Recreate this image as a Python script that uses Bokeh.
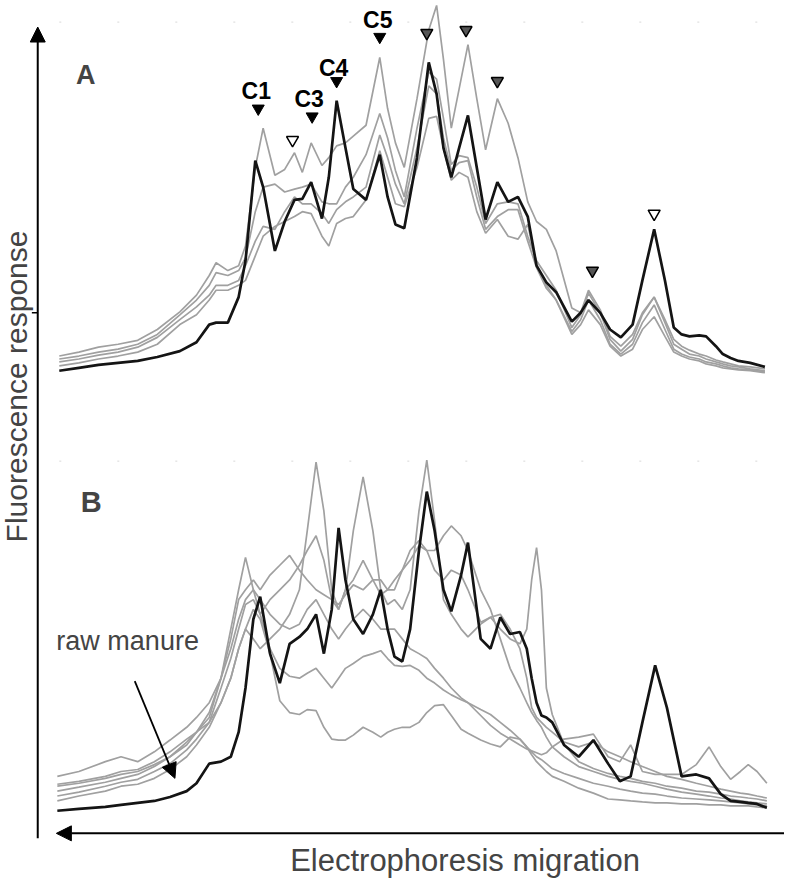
import math
from bokeh.plotting import figure
from bokeh.models import Range1d, Arrow, NormalHead, Label
from bokeh.core.properties import value
from bokeh.embed import file_html
from bokeh.resources import INLINE

# ---------------- Panel A (migration position, fluorescence response) ----------------
a_migration = [60, 80, 100, 120, 140, 160, 183, 200, 213, 220,
               232, 243, 250, 260, 268, 280, 290, 300, 308, 317,
               328, 335, 343, 352, 360, 373, 387, 395, 403, 412,
               425, 437, 445, 452, 460, 468, 477, 486, 495, 507,
               518, 528, 538, 547, 557, 567, 583, 592, 600, 612,
               622, 633, 645, 655, 667, 678, 687, 695, 703, 713,
               720, 730, 737, 745, 753, 765, 780]

a_black = [3, 6, 9, 11, 13, 17, 23, 32, 50, 52,
           52, 78, 115, 217, 190, 125, 155, 177, 178, 195,
           158, 200, 278, 230, 188, 177, 223, 180, 152, 148,
           220, 317, 285, 230, 200, 230, 263, 210, 157, 195,
           175, 180, 160, 110, 93, 83, 53, 62, 75, 62,
           45, 37, 50, 95, 147, 95, 47, 40, 38, 39,
           38, 28, 20, 16, 13, 11, 7]

a_gray1 = [18, 22, 27, 30, 34, 45, 63, 80, 100, 113,
           105, 110, 130, 210, 250, 202, 208, 225, 205, 235,
           212, 220, 232, 235, 242, 253, 322, 270, 235, 210,
           280, 350, 375, 320, 250, 290, 335, 280, 228, 280,
           255, 220, 175, 155, 147, 125, 67, 62, 85, 65,
           38, 28, 40, 62, 78, 55, 35, 28, 24, 20,
           18, 14, 12, 10, 8, 7, 5]

a_gray2 = [15, 18, 22, 25, 30, 40, 60, 75, 90, 103,
           100, 105, 118, 165, 190, 193, 185, 188, 190, 193,
           175, 173, 173, 190, 200, 223, 265, 240, 207, 180,
           250, 307, 300, 260, 213, 222, 220, 190, 153, 173,
           175, 173, 140, 115, 100, 85, 47, 60, 82, 62,
           35, 23, 35, 60, 78, 52, 30, 25, 20, 18,
           15, 12, 10, 8, 7, 5, 3]

a_gray3 = [12, 15, 19, 22, 27, 37, 55, 68, 80, 90,
           90, 95, 110, 135, 150, 147, 165, 180, 173, 173,
           163, 153, 167, 175, 180, 190, 243, 220, 193, 173,
           230, 293, 285, 240, 207, 215, 217, 180, 147, 160,
           167, 167, 135, 108, 87, 75, 43, 55, 75, 55,
           30, 20, 30, 52, 70, 45, 25, 20, 17, 15,
           12, 10, 8, 6, 5, 4, 2]

a_gray4 = [8, 11, 15, 18, 22, 30, 50, 60, 75, 85,
           85, 90, 95, 120, 140, 150, 155, 160, 165, 163,
           140, 130, 153, 158, 160, 177, 227, 200, 173, 170,
           210, 260, 262, 230, 197, 205, 200, 165, 143, 157,
           140, 137, 152, 110, 90, 75, 40, 50, 65, 50,
           28, 18, 25, 45, 58, 38, 22, 18, 15, 13,
           10, 8, 6, 5, 4, 3, 1]

# peak markers of panel A
a_mark_black_x = [263, 318, 343, 387]
a_mark_black_y = [270, 262, 298, 343]
a_mark_open_x = [298, 667]
a_mark_open_y = [238, 163]
a_mark_gray_x = [435, 475, 507, 604]
a_mark_gray_y = [347, 350, 298, 105]
a_peak_names = ["C1", "C3", "C4", "C5"]
a_peak_label_x = [261, 315, 340, 385]
a_peak_label_y = [288, 280, 311, 360]

# ---------------- Panel B ----------------
b_migration = [58, 80, 107, 123, 140, 157, 173, 190, 200, 213,
               225, 235, 243, 250, 258, 265, 275, 285, 295, 305,
               313, 322, 330, 338, 345, 352, 360, 370, 380, 388,
               395, 402, 410, 418, 427, 435, 443, 452, 460, 470,
               477, 490, 500, 510, 520, 530, 537, 542, 547, 552,
               557, 563, 575, 590, 605, 620, 632, 643, 655, 668,
               680, 695, 710, 723, 735, 745, 755, 763, 772, 782]

b_black = [0, 2, 4, 6, 8, 10, 14, 20, 28, 48,
           50, 55, 80, 125, 195, 218, 160, 130, 170, 177,
           185, 200, 160, 205, 288, 235, 195, 180, 200, 225,
           185, 157, 152, 185, 265, 325, 285, 225, 203, 240,
           273, 175, 165, 197, 180, 182, 165, 135, 110, 97,
           95, 90, 67, 55, 72, 48, 30, 35, 90, 148,
           105, 35, 37, 33, 17, 10, 9, 8, 7, 3]

b_gray1 = [27, 30, 35, 40, 42, 50, 60, 73, 80, 90,
           110, 135, 165, 185, 175, 165, 175, 185, 200, 225,
           285, 355, 305, 225, 205, 225, 285, 340, 285, 225,
           210, 215, 205, 225, 305, 357, 295, 215, 200, 185,
           177, 190, 197, 185, 175, 170, 185, 235, 268, 225,
           125, 98, 68, 50, 43, 38, 35, 33, 30, 28,
           25, 23, 20, 19, 17, 15, 14, 13, 12, 10]

b_gray2 = [20, 24, 29, 33, 37, 45, 55, 70, 80, 95,
           135, 185, 225, 258, 225, 200, 215, 225, 235, 250,
           265, 280, 255, 215, 205, 225, 235, 255, 235, 220,
           225, 235, 245, 255, 270, 265, 245, 235, 245, 240,
           225, 192, 197, 200, 185, 165, 135, 105, 95, 90,
           85, 80, 70, 65, 70, 60, 55, 50, 45, 40,
           35, 32, 28, 25, 22, 20, 18, 17, 15, 13]

b_gray3 = [25, 28, 33, 37, 40, 47, 55, 67, 80, 100,
           135, 175, 215, 225, 235, 225, 240, 250, 260, 245,
           235, 225, 220, 215, 210, 220, 230, 225, 235, 235,
           225, 225, 245, 265, 275, 265, 265, 280, 290, 280,
           265, 225, 205, 175, 145, 125, 110, 100, 92, 85,
           75, 65, 55, 45, 40, 35, 32, 30, 28, 25,
           22, 19, 17, 15, 13, 12, 10, 9, 8, 7]

b_gray4 = [15, 19, 25, 29, 32, 40, 48, 62, 73, 90,
           125, 155, 185, 210, 215, 200, 165, 145, 137, 135,
           140, 145, 135, 125, 135, 145, 150, 157, 160, 163,
           155, 148, 147, 148, 143, 135, 130, 123, 118, 113,
           110, 103, 98, 90, 82, 73, 65, 60, 55, 52,
           48, 43, 38, 33, 28, 25, 22, 20, 18, 17,
           15, 13, 12, 11, 10, 9, 8, 7, 6, 5]

b_gray5 = [10, 15, 20, 25, 27, 33, 42, 55, 67, 85,
           110, 135, 165, 185, 205, 195, 160, 112, 100, 98,
           103, 102, 85, 73, 72, 72, 77, 85, 80, 75,
           80, 83, 85, 85, 90, 100, 107, 108, 97, 83,
           79, 72, 68, 65, 75, 73, 65, 57, 50, 45,
           40, 35, 30, 23, 18, 12, 11, 10, 9, 8,
           8, 7, 7, 6, 6, 5, 5, 5, 4, 3]

b_gray6 = [35, 40, 50, 55, 50, 60, 72, 85, 95, 110,
           135, 165, 195, 215, 225, 215, 200, 190, 185, 190,
           205, 215, 200, 185, 175, 185, 195, 205, 195, 185,
           185, 185, 175, 165, 160, 155, 145, 135, 125, 115,
           110, 97, 87, 79, 73, 67, 63, 61, 59, 57,
           59, 65, 73, 75, 78, 55, 50, 67, 40, 37,
           37, 37, 47, 65, 45, 32, 40, 47, 40, 28]

GRAY = "#a0a0a0"
BLACK = "#141414"
FONT = "Liberation Sans"

p = figure(width=784, height=880, output_backend="svg", toolbar_location=None,
           x_range=Range1d(0, 800), y_range=Range1d(896, 0),
           x_axis_type=None, y_axis_type=None, min_border=0)
p.outline_line_color = None
p.grid.visible = False
p.extra_y_ranges = {"A": Range1d(-516, 380), "B": Range1d(-71, 825)}

# faint frame tops
for yy in (22, 469):
    p.line([60, 780], [yy, yy], line_color="#d8d8d8", line_width=1, line_dash="2 56")

for g in (a_gray1, a_gray2, a_gray3, a_gray4):
    p.line(a_migration, g, y_range_name="A", line_color=GRAY, line_width=1.7)
p.line(a_migration, a_black, y_range_name="A", line_color=BLACK, line_width=2.7)

for g in (b_gray1, b_gray2, b_gray3, b_gray4, b_gray5, b_gray6):
    p.line(b_migration, g, y_range_name="B", line_color=GRAY, line_width=1.7)
p.line(b_migration, b_black, y_range_name="B", line_color=BLACK, line_width=2.7)

p.scatter(a_mark_black_x, a_mark_black_y, y_range_name="A", marker="inverted_triangle",
          size=12, fill_color="black", line_color="black")
p.scatter(a_mark_open_x, a_mark_open_y, y_range_name="A", marker="inverted_triangle",
          size=12, fill_color="white", line_color="black", line_width=1.5)
p.scatter(a_mark_gray_x, a_mark_gray_y, y_range_name="A", marker="inverted_triangle",
          size=12, fill_color="#555555", line_color="black", line_width=1.5)
p.text(a_peak_label_x, a_peak_label_y, text=a_peak_names, y_range_name="A",
       text_font=value(FONT), text_font_style="bold", text_font_size="23px",
       text_align="center", text_baseline="alphabetic", text_color="black")

# panel letters
p.add_layout(Label(x=77, y=76, text="A", text_font=FONT, text_font_style="bold",
                   text_font_size="27px", text_align="left", text_baseline="alphabetic"))
p.add_layout(Label(x=82, y=511, text="B", text_font=FONT, text_font_style="bold",
                   text_font_size="29px", text_align="left", text_baseline="alphabetic"))

# axes arrows
p.add_layout(Arrow(end=NormalHead(size=15, fill_color="black", line_color="black"),
                   x_start=38, y_start=853, x_end=38, y_end=27, line_width=2, line_color="black"))
p.add_layout(Arrow(end=NormalHead(size=15, fill_color="black", line_color="black"),
                   x_start=800, y_start=848, x_end=57, y_end=848, line_width=2, line_color="black"))
p.line([32, 38], [318, 318], line_color="black", line_width=1.5)

# raw manure annotation
p.add_layout(Arrow(end=NormalHead(size=15, fill_color="black", line_color="black"),
                   x_start=137, y_start=693, x_end=178, y_end=792, line_width=1.8, line_color="black"))
p.add_layout(Label(x=57, y=652, text="raw manure", text_font=FONT, text_font_size="27px",
                   text_align="left", text_baseline="alphabetic"))

# axis titles
p.add_layout(Label(x=474, y=876, text="Electrophoresis migration", text_font=FONT,
                   text_font_size="31px", text_align="center", text_baseline="alphabetic"))
p.add_layout(Label(x=16, y=393, text="Fluorescence response", text_font=FONT,
                   text_font_size="30px", text_align="center", text_baseline="middle",
                   angle=math.pi / 2))

open("out.html", "w").write(file_html(p, INLINE))
